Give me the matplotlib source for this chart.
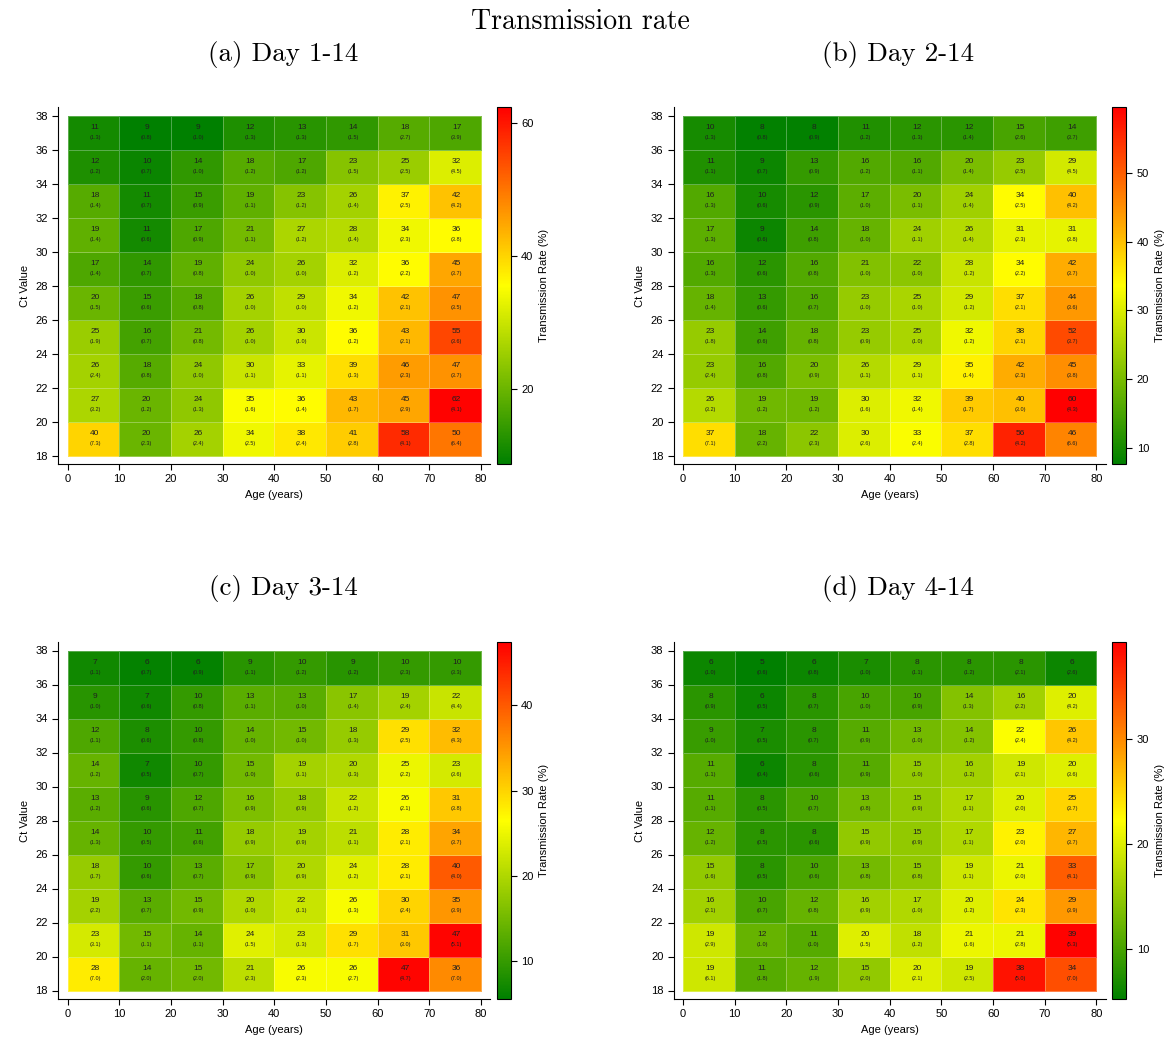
import numpy as np
import matplotlib
matplotlib.use("Agg")
import matplotlib.pyplot as plt
from matplotlib.colors import LinearSegmentedColormap, Normalize
from matplotlib.ticker import MultipleLocator

plt.rcParams['font.family'] = ['Liberation Sans', 'DejaVu Sans']

# bins
age_edges = [0, 10, 20, 30, 40, 50, 60, 70, 80]
ct_edges = [18, 20, 22, 24, 26, 28, 30, 32, 34, 36, 38]

# rows listed from top (Ct 36-38) to bottom (Ct 18-20)
rate_a = [[11, 9, 9, 12, 13, 14, 18, 17],
          [12, 10, 14, 18, 17, 23, 25, 32],
          [18, 11, 15, 19, 23, 26, 37, 42],
          [19, 11, 17, 21, 27, 28, 34, 36],
          [17, 14, 19, 24, 26, 32, 36, 45],
          [20, 15, 18, 26, 29, 34, 42, 47],
          [25, 16, 21, 26, 30, 36, 43, 55],
          [26, 18, 24, 30, 33, 39, 46, 47],
          [27, 20, 24, 35, 36, 43, 45, 62],
          [40, 20, 26, 34, 38, 41, 58, 50]]
se_a = [[1.3, 0.8, 1.0, 1.3, 1.3, 1.5, 2.7, 3.9],
        [1.2, 0.7, 1.0, 1.2, 1.2, 1.5, 2.5, 4.5],
        [1.4, 0.7, 0.9, 1.1, 1.2, 1.4, 2.5, 4.2],
        [1.4, 0.6, 0.9, 1.1, 1.2, 1.4, 2.3, 3.8],
        [1.4, 0.7, 0.8, 1.0, 1.0, 1.2, 2.2, 3.7],
        [1.5, 0.6, 0.8, 1.0, 1.0, 1.2, 2.1, 3.5],
        [1.9, 0.7, 0.8, 1.0, 1.0, 1.2, 2.1, 3.6],
        [2.4, 0.8, 1.0, 1.1, 1.1, 1.3, 2.3, 3.7],
        [3.2, 1.2, 1.3, 1.6, 1.4, 1.7, 2.9, 4.1],
        [7.3, 2.3, 2.4, 2.5, 2.4, 2.8, 4.1, 6.4]]

rate_b = [[10, 8, 8, 11, 12, 12, 15, 14],
          [11, 9, 13, 16, 16, 20, 23, 29],
          [16, 10, 12, 17, 20, 24, 34, 40],
          [17, 9, 14, 18, 24, 26, 31, 31],
          [16, 12, 16, 21, 22, 28, 34, 42],
          [18, 13, 16, 23, 25, 29, 37, 44],
          [23, 14, 18, 23, 25, 32, 38, 52],
          [23, 16, 20, 26, 29, 35, 42, 45],
          [26, 19, 19, 30, 32, 39, 40, 60],
          [37, 18, 22, 30, 33, 37, 56, 46]]
se_b = [[1.3, 0.8, 0.9, 1.2, 1.3, 1.4, 2.6, 3.7],
        [1.1, 0.7, 0.9, 1.2, 1.1, 1.4, 2.5, 4.5],
        [1.3, 0.6, 0.9, 1.0, 1.1, 1.4, 2.5, 4.2],
        [1.3, 0.6, 0.8, 1.0, 1.1, 1.4, 2.3, 3.8],
        [1.3, 0.6, 0.8, 1.0, 1.0, 1.2, 2.2, 3.7],
        [1.4, 0.6, 0.7, 1.0, 1.0, 1.2, 2.1, 3.6],
        [1.8, 0.6, 0.8, 0.9, 1.0, 1.2, 2.1, 3.7],
        [2.4, 0.8, 0.9, 1.1, 1.1, 1.4, 2.3, 3.8],
        [3.2, 1.2, 1.2, 1.6, 1.4, 1.7, 3.0, 4.3],
        [7.1, 2.2, 2.3, 2.6, 2.4, 2.8, 4.2, 6.6]]

rate_c = [[7, 6, 6, 9, 10, 9, 10, 10],
          [9, 7, 10, 13, 13, 17, 19, 22],
          [12, 8, 10, 14, 15, 18, 29, 32],
          [14, 7, 10, 15, 19, 20, 25, 23],
          [13, 9, 12, 16, 18, 22, 26, 31],
          [14, 10, 11, 18, 19, 21, 28, 34],
          [18, 10, 13, 17, 20, 24, 28, 40],
          [19, 13, 15, 20, 22, 26, 30, 35],
          [23, 15, 14, 24, 23, 29, 31, 47],
          [28, 14, 15, 21, 26, 26, 47, 36]]
se_c = [[1.1, 0.7, 0.9, 1.1, 1.2, 1.2, 2.3, 3.3],
        [1.0, 0.6, 0.8, 1.1, 1.0, 1.4, 2.4, 4.4],
        [1.1, 0.6, 0.8, 1.0, 1.0, 1.3, 2.5, 4.3],
        [1.2, 0.5, 0.7, 1.0, 1.1, 1.3, 2.2, 3.6],
        [1.2, 0.6, 0.7, 0.9, 0.9, 1.2, 2.1, 3.8],
        [1.3, 0.5, 0.6, 0.9, 0.9, 1.1, 2.1, 3.7],
        [1.7, 0.6, 0.7, 0.9, 0.9, 1.2, 2.1, 4.0],
        [2.2, 0.7, 0.9, 1.0, 1.1, 1.3, 2.4, 3.9],
        [3.1, 1.1, 1.1, 1.5, 1.3, 1.7, 3.0, 5.1],
        [7.0, 2.0, 2.0, 2.3, 2.3, 2.7, 4.7, 7.0]]

rate_d = [[6, 5, 6, 7, 8, 8, 8, 6],
          [8, 6, 8, 10, 10, 14, 16, 20],
          [9, 7, 8, 11, 13, 14, 22, 26],
          [11, 6, 8, 11, 15, 16, 19, 20],
          [11, 8, 10, 13, 15, 17, 20, 25],
          [12, 8, 8, 15, 15, 17, 23, 27],
          [15, 8, 10, 13, 15, 19, 21, 33],
          [16, 10, 12, 16, 17, 20, 24, 29],
          [19, 12, 11, 20, 18, 21, 21, 39],
          [19, 11, 12, 15, 20, 19, 38, 34]]
se_d = [[1.0, 0.6, 0.8, 1.0, 1.1, 1.2, 2.1, 2.6],
        [0.9, 0.5, 0.7, 1.0, 0.9, 1.3, 2.2, 4.2],
        [1.0, 0.5, 0.7, 0.9, 1.0, 1.2, 2.4, 4.2],
        [1.1, 0.4, 0.6, 0.9, 1.0, 1.2, 2.1, 3.6],
        [1.1, 0.5, 0.7, 0.8, 0.9, 1.1, 2.0, 3.7],
        [1.2, 0.5, 0.6, 0.9, 0.9, 1.1, 2.0, 3.7],
        [1.6, 0.5, 0.6, 0.8, 0.8, 1.1, 2.0, 4.1],
        [2.1, 0.7, 0.8, 0.9, 1.0, 1.2, 2.3, 3.9],
        [2.9, 1.0, 1.0, 1.5, 1.2, 1.6, 2.8, 5.3],
        [6.1, 1.8, 1.9, 2.0, 2.1, 2.5, 5.0, 7.0]]

# colour range of each colorbar (unrounded min / max) and its tick step
vmins = [8.8, 7.6, 5.6, 5.2]
vmaxs = [62.4, 59.6, 47.4, 39.2]
cb_steps = [20, 10, 10, 10]
titles = ['(a) Day 1-14', '(b) Day 2-14', '(c) Day 3-14', '(d) Day 4-14']

cmap = LinearSegmentedColormap.from_list('gyr', ['#008000', '#ffff00', '#ff0000'])

fig = plt.figure(figsize=(11.71, 10.5), dpi=100)
fig.text(0.496, 0.979, 'Transmission rate', ha='center', va='center',
         fontsize=20, family='cmr10')

W, H = 1171.0, 1050.0
dx, dy = 615.5, 535.0
panels = [(rate_a, se_a), (rate_b, se_b), (rate_c, se_c), (rate_d, se_d)]

for k, (rate, se) in enumerate(panels):
    col, row = k % 2, k // 2
    x0 = 58.3 + col * dx
    ytop = 107.0 + row * dy
    ax = fig.add_axes([x0 / W, 1 - (ytop + 357) / H, 432 / W, 357 / H])
    cax = fig.add_axes([(496.7 + col * dx) / W, 1 - (ytop + 357) / H, 14 / W, 357 / H])

    z = np.array(rate, dtype=float)[::-1]
    s = np.array(se)[::-1]
    norm = Normalize(vmins[k], vmaxs[k])
    mesh = ax.pcolormesh(age_edges, ct_edges, z, cmap=cmap, norm=norm,
                         edgecolors=(1, 1, 1, 0.3), linewidth=0.6)
    xc = [(age_edges[i] + age_edges[i + 1]) / 2 for i in range(len(age_edges) - 1)]
    yc = [(ct_edges[j] + ct_edges[j + 1]) / 2 for j in range(len(ct_edges) - 1)]
    for j in range(len(yc)):
        for i in range(len(xc)):
            ax.text(xc[i] + 0.3, yc[j] + 0.27, '%d' % z[j, i], ha='center', va='center',
                    fontsize=6, color='#202020')
            ax.text(xc[i] + 0.3, yc[j] - 0.3, '(%.1f)' % s[j, i], ha='center', va='center',
                    fontsize=4, color='#202020')

    ax.set_xlim(-1.8, 81.8)
    ax.set_ylim(17.5, 38.5)
    ax.set_xticks(range(0, 81, 10))
    ax.set_yticks(range(18, 39, 2))
    ax.spines['top'].set_visible(False)
    ax.spines['right'].set_visible(False)
    ax.tick_params(labelsize=8, length=4, width=0.8)
    ax.set_xlabel('Age (years)', fontsize=8)
    ax.set_ylabel('Ct Value', fontsize=8)

    cb = fig.colorbar(mesh, cax=cax)
    cb.ax.yaxis.set_major_locator(MultipleLocator(cb_steps[k]))
    cb.ax.tick_params(labelsize=8, length=4, width=0.8)
    cb.set_label('Transmission Rate (%)', fontsize=8)
    cb.outline.set_linewidth(0.8)

    fig.text((283 + col * dx) / W, 1 - (54 + row * dy) / H, titles[k],
             ha='center', va='center', fontsize=19.5, family='cmr10')

fig.savefig('out.png', dpi=100)
